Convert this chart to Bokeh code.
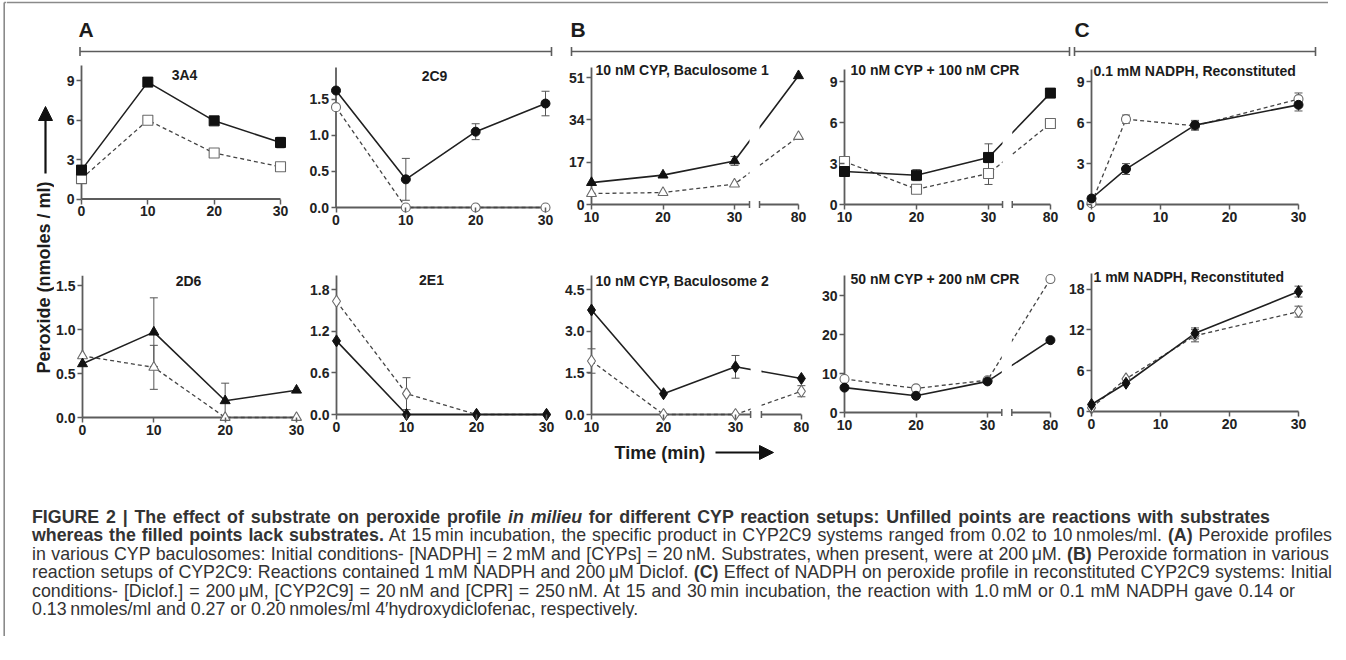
import math
from bokeh.plotting import figure
from bokeh.models import (Range1d, FixedTicker, ColumnDataSource, Whisker, TeeHead,
                          Arrow, NormalHead, Div, PrintfTickFormatter, CustomJSTickFormatter)
from bokeh.layouts import row, column
from bokeh.embed import file_html
from bokeh.resources import INLINE
from bokeh.core.properties import value

# ------------------------------------------------------------------ data
# (A) CYP baculosomes
time_a = [0, 10, 20, 30]
cyp3a4_filled = [2.2, 8.9, 5.95, 4.3]
cyp3a4_filled_err = [0.0, 0.0, 0.0, 0.4]
cyp3a4_open = [1.55, 6.0, 3.5, 2.45]
cyp3a4_open_err = [0.0, 0.0, 0.0, 0.0]

cyp2c9_filled = [1.62, 0.39, 1.05, 1.44]
cyp2c9_filled_err = [0.0, 0.29, 0.11, 0.17]
cyp2c9_open = [1.39, 0.0, 0.0, 0.0]
cyp2c9_open_err = [0.0, 0.0, 0.0, 0.0]

cyp2d6_filled = [0.61, 0.97, 0.19, 0.31]
cyp2d6_filled_err = [0.0, 0.39, 0.2, 0.0]
cyp2d6_open = [0.70, 0.57, 0.0, 0.0]
cyp2d6_open_err = [0.0, 0.25, 0.0, 0.0]

cyp2e1_filled = [1.06, 0.0, 0.0, 0.0]
cyp2e1_filled_err = [0.0, 0.0, 0.0, 0.0]
cyp2e1_open = [1.63, 0.30, 0.0, 0.0]
cyp2e1_open_err = [0.0, 0.23, 0.0, 0.0]

# (B) reaction setups of CYP2C9 (broken time axis: 10, 20, 30 | 80)
time_b = [10, 20, 30, 80]
bac1_filled = [8.8, 11.8, 17.5, 51.7]
bac1_filled_err = [0.0, 0.0, 1.8, 0.0]
bac1_open = [4.4, 4.8, 8.2, 27.3]
bac1_open_err = [0.0, 0.0, 0.0, 0.0]

cpr100_filled = [2.42, 2.15, 3.45, 8.17]
cpr100_filled_err = [0.0, 0.4, 1.0, 0.0]
cpr100_open = [3.15, 1.12, 2.27, 5.94]
cpr100_open_err = [0.3, 0.3, 0.8, 0.0]

bac2_filled = [3.77, 0.75, 1.72, 1.30]
bac2_filled_err = [0.0, 0.0, 0.41, 0.0]
bac2_open = [1.93, 0.0, 0.0, 0.84]
bac2_open_err = [0.44, 0.0, 0.0, 0.2]

cpr200_filled = [6.4, 4.3, 8.0, 18.6]
cpr200_filled_err = [0.0, 0.0, 0.0, 0.0]
cpr200_open = [8.6, 6.2, 8.3, 34.3]
cpr200_open_err = [0.0, 0.0, 0.0, 0.0]

# (C) reconstituted CYP2C9, NADPH level
time_c = [0, 5, 15, 30]
nadph01_filled = [0.44, 2.6, 5.82, 7.31]
nadph01_filled_err = [0.0, 0.4, 0.35, 0.45]
nadph01_open = [0.1, 6.26, 5.77, 7.73]
nadph01_open_err = [0.0, 0.3, 0.3, 0.45]

nadph1_filled = [1.03, 4.16, 11.5, 17.65]
nadph1_filled_err = [0.0, 0.0, 0.8, 0.8]
nadph1_open = [0.54, 4.8, 11.15, 14.7]
nadph1_open_err = [0.0, 0.0, 0.9, 0.8]

ticks_a_x = [0, 10, 20, 30]
ticks_c_x = [0, 10, 20, 30]

caption_lines = [
    "<b>FIGURE 2 | The effect of substrate on peroxide profile <i>in milieu</i> for different CYP reaction setups: Unfilled points are reactions with substrates</b>",
    "<b>whereas the filled points lack substrates.</b> At 15\u2009min incubation, the specific product in CYP2C9 systems ranged from 0.02 to 10\u2009nmoles/ml. <b>(A)</b> Peroxide profiles",
    "in various CYP baculosomes: Initial conditions- [NADPH] = 2\u2009mM and [CYPs] = 20\u2009nM. Substrates, when present, were at 200\u2009\u03bcM. <b>(B)</b> Peroxide formation in various",
    "reaction setups of CYP2C9: Reactions contained 1\u2009mM NADPH and 200\u2009\u03bcM Diclof. <b>(C)</b> Effect of NADPH on peroxide profile in reconstituted CYP2C9 systems: Initial",
    "conditions- [Diclof.] = 200\u2009\u03bcM, [CYP2C9] = 20\u2009nM and [CPR] = 250\u2009nM. At 15 and 30\u2009min incubation, the reaction with 1.0\u2009mM or 0.1 mM NADPH gave 0.14 or",
    "0.13\u2009nmoles/ml and 0.27 or 0.20\u2009nmoles/ml 4\u2032hydroxydiclofenac, respectively.",
]

# ------------------------------------------------------------------ style
FONT = "Liberation Sans"
AX = "#5c5c5c"
INK = "#1c1c1c"


def base_fig(w, h, xr, yr, axes=True):
    kw = {}
    if not axes:
        kw = dict(x_axis_location=None, y_axis_location=None)
    p = figure(width=w, height=h, x_range=xr, y_range=yr, output_backend="svg",
               toolbar_location=None, min_border=0, title=None, **kw)
    p.outline_line_color = None
    p.background_fill_color = None
    p.border_fill_color = None
    p.grid.visible = False
    return p


def canvas(left, right, top, bottom):
    # page-pixel coordinates: x = page x, y = -page y
    return base_fig(right - left, bottom - top, Range1d(left, right), Range1d(-bottom, -top), axes=False)


def broken(times, d80):
    return [t if t <= 30 else d80 for t in times]


def panel(cols, band, xcal, ycal, xticks, yticks, xspans, ytop, yaxis_x,
          title, title_pos, title_align, yfmt=None, xfmt=None, breaks=()):
    left, right = cols
    top, bottom = band
    (xa, pa), (xb, pb) = xcal
    (ya, qa), (yb, qb) = ycal
    sx = (pb - pa) / (xb - xa)
    sy = (qa - qb) / (yb - ya)
    xr = Range1d(xa - (pa - left) / sx, xa + (right - pa) / sx)
    yr = Range1d(ya - (bottom - qa) / sy, ya + (qa - top) / sy)
    p = base_fig(right - left, bottom - top, xr, yr)
    p.xaxis.fixed_location = 0
    p.yaxis.fixed_location = yaxis_x
    p.xaxis.ticker = FixedTicker(ticks=xticks)
    p.yaxis.ticker = FixedTicker(ticks=yticks)
    if yfmt:
        p.yaxis.formatter = PrintfTickFormatter(format=yfmt)
    if xfmt is not None:
        p.xaxis.formatter = xfmt
    for ax in (p.xaxis[0], p.yaxis[0]):
        ax.axis_line_color = None
        ax.major_tick_line_color = AX
        ax.major_tick_line_width = 1.5
        ax.major_tick_out = 5
        ax.major_tick_in = 0
        ax.minor_tick_line_color = None
        ax.major_label_text_font = FONT
        ax.major_label_text_font_style = "bold"
        ax.major_label_text_font_size = "14px"
        ax.major_label_text_color = "#222222"
        ax.major_label_standoff = 2
    for (x0, x1) in xspans:
        p.segment(x0=[x0], y0=[0], x1=[x1], y1=[0], line_color=AX, line_width=1.8)
    p.segment(x0=[yaxis_x], y0=[0], x1=[yaxis_x], y1=[ytop], line_color=AX, line_width=1.8)
    tx = xa + (title_pos[0] - pa) / sx
    ty = ya + (qa - title_pos[1]) / sy
    p._title = (tx, ty, title, title_align)
    p._cal = (sx, sy, yr)
    p._breaks = breaks
    return p


def add_series(p, xs, series, marker, size):
    """series: list of (ys, errs, filled) ; open series first."""
    sx, sy, yr = p._cal
    for ys, errs, filled in series:
        if filled:
            p.line(xs, ys, line_color="#202020", line_width=1.6)
        else:
            p.line(xs, ys, line_color="#444444", line_width=1.3, line_dash="4 3")
    if p._breaks:
        b0, b1 = p._breaks
        p.quad(left=[b0], right=[b1], bottom=[yr.start], top=[yr.end],
               fill_color="white", line_color=None)
        h = 3.5 / sy
        for b in (b0, b1):
            p.segment(x0=[b], y0=[-h], x1=[b], y1=[h], line_color=AX, line_width=1.5)
    for ys, errs, filled in series:
        idx = [i for i, e in enumerate(errs) if e > 0]
        if idx:
            src = ColumnDataSource(dict(base=[xs[i] for i in idx],
                                        upper=[ys[i] + errs[i] for i in idx],
                                        lower=[ys[i] - errs[i] for i in idx]))
            w = Whisker(source=src, base="base", upper="upper", lower="lower",
                        dimension="height", line_color="#555555", line_width=1,
                        upper_head=TeeHead(size=8, line_color="#555555", line_width=1),
                        lower_head=TeeHead(size=8, line_color="#555555", line_width=1),
                        level="underlay")
            p.add_layout(w)
    for ys, errs, filled in series:
        if filled:
            p.scatter(xs, ys, marker=marker, size=size, fill_color="#111111",
                      line_color="#111111", line_width=1)
        else:
            p.scatter(xs, ys, marker=marker, size=size, fill_color="white",
                      line_color="#6a6a6a", line_width=1.1)
    tx, ty, title, align = p._title
    p.text(x=[tx], y=[ty], text=[title], text_align=align, text_baseline="middle",
           text_font=value(FONT), text_font_style="bold", text_font_size="14px", text_color=INK)


# ------------------------------------------------------------------ layout geometry
TOP = (68, 246)
BOT = (246, 450)
COL = [(62, 316), (316, 570), (570, 826), (826, 1072), (1072, 1336)]
fmt80 = CustomJSTickFormatter(code="return tick > 35 ? '80' : tick.toFixed(0);")

# --- A
p3a4 = panel(COL[0], TOP, ((0, 89), (30, 288)), ((0, 206.5), (9, 88.3)), ticks_a_x, [0, 3, 6, 9],
             [(0, 30)], 10.17, 0, "3A4", (192, 82), "center")
add_series(p3a4, time_a, [(cyp3a4_open, cyp3a4_open_err, False),
                          (cyp3a4_filled, cyp3a4_filled_err, True)], "square", 10)

p2c9 = panel(COL[1], TOP, ((0, 343.5), (30, 553)), ((0, 215), (1.5, 106.7)), ticks_a_x, [0, 0.5, 1.0, 1.5],
             [(0, 30)], 1.94, 0, "2C9", (442, 83), "center", yfmt="%.1f")
add_series(p2c9, time_a, [(cyp2c9_open, cyp2c9_open_err, False),
                          (cyp2c9_filled, cyp2c9_filled_err, True)], "circle", 9)

p2d6 = panel(COL[0], BOT, ((0, 90), (30, 304)), ((0, 425), (1.5, 293)), ticks_a_x, [0, 0.5, 1.0, 1.5],
             [(0, 30)], 1.61, 0, "2D6", (196, 288), "center", yfmt="%.1f")
add_series(p2d6, time_a, [(cyp2d6_open, cyp2d6_open_err, False),
                          (cyp2d6_filled, cyp2d6_filled_err, True)], "triangle", 10)

p2e1 = panel(COL[1], BOT, ((0, 344), (30, 554)), ((0, 422), (1.8, 297)), ticks_a_x, [0, 0.6, 1.2, 1.8],
             [(0, 30)], 2.0, 0, "2E1", (439, 287), "center", yfmt="%.1f")
add_series(p2e1, time_a, [(cyp2e1_open, cyp2e1_open_err, False),
                          (cyp2e1_filled, cyp2e1_filled_err, True)], "diamond", 12)

# --- B
d80_bac1 = 38.95
pbac1 = panel(COL[2], TOP, ((10, 599), (30, 742)), ((0, 212), (51, 85)), [10, 20, 30, d80_bac1], [0, 17, 34, 51],
              [(10, 32.1), (33.5, d80_bac1)], 55.0, 10, "10 nM CYP, Baculosome 1", (603, 77), "left",
              xfmt=fmt80, breaks=(32.1, 33.5))
add_series(pbac1, broken(time_b, d80_bac1), [(bac1_open, bac1_open_err, False),
                                             (bac1_filled, bac1_filled_err, True)], "triangle", 10)

d80_cpr1 = 38.6
pcpr1 = panel(COL[3], TOP, ((10, 852), (30, 996)), ((0, 212), (9, 89.3)), [10, 20, 30, d80_cpr1], [0, 3, 6, 9],
              [(10, 31.95), (33.3, d80_cpr1)], 9.9, 10, "10 nM CYP + 100 nM CPR", (858, 77), "left",
              xfmt=fmt80, breaks=(31.95, 33.3))
add_series(pcpr1, broken(time_b, d80_cpr1), [(cpr100_open, cpr100_open_err, False),
                                             (cpr100_filled, cpr100_filled_err, True)], "square", 10)

d80_bac2 = 39.15
pbac2 = panel(COL[2], BOT, ((10, 599), (30, 743)), ((0, 422), (4.5, 297.3)), [10, 20, 30, d80_bac2],
              [0, 1.5, 3.0, 4.5], [(10, 32.1), (33.6, d80_bac2)], 5.02, 10, "10 nM CYP, Baculosome 2",
              (603, 288), "left", yfmt="%.1f", xfmt=fmt80, breaks=(32.1, 33.6))
add_series(pbac2, broken(time_b, d80_bac2), [(bac2_open, bac2_open_err, False),
                                             (bac2_filled, bac2_filled_err, True)], "diamond", 12)

d80_cpr2 = 38.8
pcpr2 = panel(COL[3], BOT, ((10, 852), (30, 995)), ((0, 420), (30, 303.3)), [10, 20, 30, d80_cpr2],
              [0, 10, 20, 30], [(10, 32.0), (33.4, d80_cpr2)], 35.2, 10, "50 nM CYP + 200 nM CPR",
              (858, 286), "left", xfmt=fmt80, breaks=(32.0, 33.4))
add_series(pcpr2, broken(time_b, d80_cpr2), [(cpr200_open, cpr200_open_err, False),
                                             (cpr200_filled, cpr200_filled_err, True)], "circle", 9)

# --- C
pc01 = panel(COL[4], TOP, ((0, 1099), (30, 1306)), ((0, 212), (9, 89.3)), ticks_c_x, [0, 3, 6, 9],
             [(0, 30)], 9.9, 0, "0.1 mM NADPH, Reconstituted", (1101, 78), "left")
add_series(pc01, time_c, [(nadph01_open, nadph01_open_err, False),
                          (nadph01_filled, nadph01_filled_err, True)], "circle", 9)

pc1 = panel(COL[4], BOT, ((0, 1099), (30, 1306)), ((0, 419), (18, 296.7)), ticks_c_x, [0, 6, 12, 18],
            [(0, 30)], 20.3, 0, "1 mM NADPH, Reconstituted", (1101, 284), "left")
add_series(pc1, time_c, [(nadph1_open, nadph1_open_err, False),
                         (nadph1_filled, nadph1_filled_err, True)], "diamond", 12)

# --- header: panel letters and brackets
header = canvas(14, 1336, 8, 68)
header.segment(x0=[14], y0=[-10], x1=[1336], y1=[-10], line_color="#8a8a8a", line_width=1.6)
header.text(x=[86, 578, 1082], y=[-37, -37, -37], text=["A", "B", "C"], text_align="left",
            text_baseline="middle", text_font=value(FONT), text_font_style="bold",
            text_font_size="21px", text_color=INK)
brackets = [(87.5, 559), (579, 1077), (1082, 1323)]
header.segment(x0=[a for a, b in brackets], y0=[-59] * 3, x1=[b for a, b in brackets], y1=[-59] * 3,
               line_color=AX, line_width=1.6)
ends = [v for ab in brackets for v in ab]
header.segment(x0=ends, y0=[-54.5] * 6, x1=ends, y1=[-63.5] * 6, line_color=AX, line_width=1.6)

# --- y-axis label
ylab = canvas(14, 62, 68, 450)
ylab.text(x=[51], y=[-285], text=["Peroxide (nmoles / ml)"], angle=math.pi / 2, text_align="center",
          text_baseline="middle", text_font=value(FONT), text_font_style="bold",
          text_font_size="18px", text_color=INK)
ylab.add_layout(Arrow(x_start=53, y_start=-181, x_end=53, y_end=-114,
                      end=NormalHead(size=14, fill_color="#111111", line_color="#111111"),
                      line_color="#111111", line_width=2.2))

# --- x-axis label
tfig = canvas(14, 1336, 450, 478)
tfig.text(x=[622], y=[-460], text=["Time (min)"], text_align="left", text_baseline="middle",
          text_font=value(FONT), text_font_style="bold", text_font_size="18px", text_color=INK)
tfig.add_layout(Arrow(x_start=723, y_start=-460, x_end=781, y_end=-460,
                      end=NormalHead(size=14, fill_color="#111111", line_color="#111111"),
                      line_color="#111111", line_width=2.2))

# --- left border of the figure frame
border = canvas(8, 14, 8, 644)
border.segment(x0=[11.7], y0=[-10], x1=[11.7], y1=[-644], line_color="#8a8a8a", line_width=1.6)
border.segment(x0=[11.7], y0=[-10], x1=[14], y1=[-10], line_color="#8a8a8a", line_width=1.6)

# --- caption
widths = [1238, 1300, 1297, 1300, 1263, None]
parts = []
for txt, w in zip(caption_lines, widths):
    if w:
        parts.append(f"<div style='width:{w}px;white-space:nowrap;text-align:justify;"
                     f"text-align-last:justify;'>{txt}</div>")
    else:
        parts.append(f"<div style='white-space:nowrap;'>{txt}</div>")
cap_html = ("<div style=\"width:1322px;overflow:hidden;font-family:'Liberation Sans',Arial,sans-serif;"
            "font-size:17.8px;line-height:18.4px;color:#333333;padding:33px 0 0 21px;box-sizing:border-box;\">"
            + "".join(parts) + "</div>")
caption = Div(text=cap_html, width=1322, height=166)

grid = row(ylab, *[column(t, b) for t, b in zip([p3a4, p2c9, pbac1, pcpr1, pc01],
                                                  [p2d6, p2e1, pbac2, pcpr2, pc1])])
main = column(header, grid, tfig, caption)
root = row(border, main)

with open("out.html", "w", encoding="utf-8") as f:
    f.write(file_html(root, INLINE))
